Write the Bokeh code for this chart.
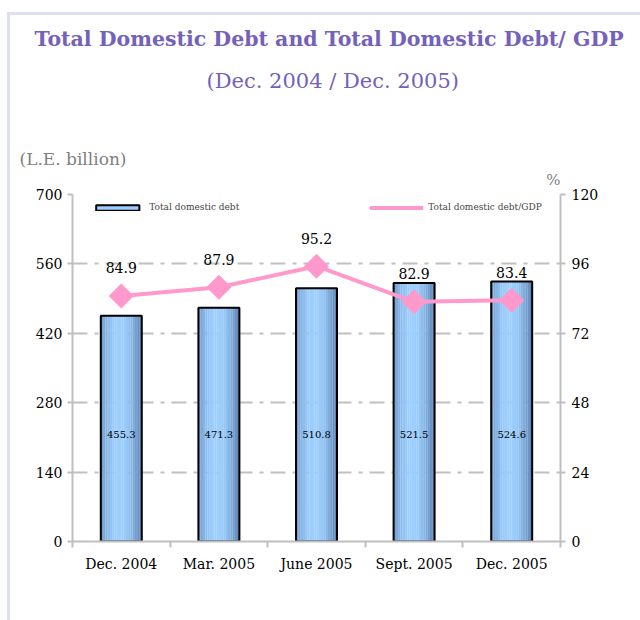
from bokeh.plotting import figure
from bokeh.models import (ColumnDataSource, Range1d, LinearAxis, FixedTicker, Title,
                          Legend, LegendItem)
from bokeh.transform import dodge
from bokeh.core.properties import value
from bokeh.embed import file_html
from bokeh.resources import INLINE

# ---- data ----
categories = ["Dec. 2004", "Mar. 2005", "June 2005", "Sept. 2005", "Dec. 2005"]
debt = [455.3, 471.3, 510.8, 521.5, 524.6]          # L.E. billion
debt_gdp = [84.9, 87.9, 95.2, 82.9, 83.4]           # %
left_ticks = [0, 140, 280, 420, 560, 700]
right_ticks = [0, 24, 48, 72, 96, 120]

title_txt = "Total Domestic Debt and Total Domestic Debt/ GDP"
subtitle_txt = "(Dec. 2004 / Dec. 2005)"
unit_left = "(L.E. billion)"
unit_right = "%"
legend_bar = "Total domestic debt"
legend_line = "Total domestic debt/GDP"

# ---- styles ----
PURPLE = "#7361ba"
GREY = "#bfbfbf"
PINK = "#ff99cc"
SERIF = "DejaVu Serif"

xs = [i + 0.5 for i in range(len(categories))]
src = ColumnDataSource(dict(
    x=xs, debt=debt, gdp=debt_gdp,
    debt_lbl=[f"{v:.1f}" for v in debt],
    gdp_lbl=[f"{v:.1f}" for v in debt_gdp],
    lbl_y=[215] * len(debt),
))

p = figure(frame_width=488, frame_height=347, output_backend="svg", toolbar_location=None,
           x_range=Range1d(0, len(categories)), y_range=Range1d(0, 700),
           min_border_left=62, min_border_right=80, min_border_top=179, min_border_bottom=79,
           background_fill_color="white", border_fill_color="white")
p.title = None
p.margin = (12, 0, 0, 7)
p.styles = {"border-left": "3px solid #dedef4", "border-top": "3px solid #dedef4"}
p.outline_line_color = None
p.extra_y_ranges = {"pct": Range1d(0, 120)}

# grid
p.xgrid.visible = False
p.ygrid.ticker = FixedTicker(ticks=left_ticks)
p.ygrid.grid_line_color = "#c0c0c0"
p.ygrid.grid_line_width = 2
p.ygrid.grid_line_dash = "15 7 4 7"

# x axis
xa = p.xaxis[0]
xa.ticker = FixedTicker(ticks=xs, minor_ticks=list(range(len(categories) + 1)))
xa.major_label_overrides = {x: c for x, c in zip(xs, categories)}
xa.major_tick_out = 0
xa.major_tick_in = 0
xa.minor_tick_out = 6
xa.minor_tick_in = 0
xa.minor_tick_line_color = GREY
xa.minor_tick_line_width = 2
xa.axis_line_color = GREY
xa.axis_line_width = 2
xa.major_label_standoff = 8
xa.major_label_text_font = SERIF
xa.major_label_text_font_size = "14px"
xa.major_label_text_color = "black"

# left axis
ya = p.yaxis[0]
ya.ticker = FixedTicker(ticks=left_ticks)
ya.axis_line_color = GREY
ya.axis_line_width = 2
ya.major_tick_line_color = GREY
ya.major_tick_line_width = 2
ya.major_tick_out = 5
ya.major_tick_in = 0
ya.minor_tick_line_color = None
ya.major_label_standoff = 5
ya.major_label_text_font = SERIF
ya.major_label_text_font_size = "14px"
ya.major_label_text_color = "black"

# right axis
ra = LinearAxis(y_range_name="pct", ticker=FixedTicker(ticks=right_ticks))
ra.axis_line_color = GREY
ra.axis_line_width = 2
ra.major_tick_line_color = GREY
ra.major_tick_line_width = 2
ra.major_tick_out = 5
ra.major_tick_in = 0
ra.minor_tick_line_color = None
ra.major_label_standoff = 6
ra.major_label_text_font = SERIF
ra.major_label_text_font_size = "14px"
ra.major_label_text_color = "black"
p.add_layout(ra, "right")

# bars with simulated gradient (vertical strips)
BW = 0.42
N = 18
dark = (86, 124, 174)
light = (158, 208, 255)
strips = []
for k in range(N):
    t = (k + 0.5) / N
    f = 1 - ((t - 0.45) / 0.55) ** 2
    f = max(0.0, min(1.0, f))
    col = "#%02x%02x%02x" % tuple(int(d + (l - d) * f) for d, l in zip(dark, light))
    off = -BW / 2 + (k + 0.5) * BW / N
    r = p.vbar(x=dodge("x", off, range=p.x_range), top="debt", width=BW / N * 1.05,
               source=src, fill_color=col, line_color=None)
    strips.append(r)
outline = p.vbar(x="x", top="debt", width=BW, source=src, fill_color=None,
                 line_color="black", line_width=2)

# bar labels
p.text(x="x", y="lbl_y", text="debt_lbl", source=src, text_align="center",
       text_baseline="middle", text_font=value(SERIF), text_font_size="10px",
       text_color="black")

# line
line_r = p.line(x="x", y="gdp", source=src, y_range_name="pct", line_color=PINK, line_width=4)
mark_r = p.scatter(x="x", y="gdp", source=src, y_range_name="pct", marker="square",
                   angle=0.7854, size=17, fill_color=PINK, line_color=PINK)
p.text(x="x", y="gdp", text="gdp_lbl", source=src, y_range_name="pct", y_offset=-28,
       text_align="center", text_baseline="middle", text_font=value(SERIF),
       text_font_size="14px", text_color="black")

# titles stacked above the frame (closest first)
p.add_layout(Title(text=unit_right, align="right", offset=0, text_font=SERIF,
                   text_font_size="15px", text_font_style="normal", text_color="#808080",
                   standoff=12), "above")
p.add_layout(Title(text=unit_left, align="left", offset=-53, text_font=SERIF,
                   text_font_size="17px", text_font_style="normal", text_color="#808080",
                   standoff=-12), "above")
p.add_layout(Title(text=" ", align="left", text_font=SERIF, text_font_size="21px",
                   standoff=22), "above")
p.add_layout(Title(text=subtitle_txt, align="left", offset=134, text_font=SERIF,
                   text_font_size="21px", text_font_style="normal", text_color=PURPLE,
                   standoff=21), "above")
p.add_layout(Title(text=title_txt, align="left", offset=-38, text_font=SERIF,
                   text_font_size="20.5px", text_font_style="bold", text_color=PURPLE,
                   standoff=11), "above")

# legend (inside the frame, in the empty band at the top)
legend = Legend(items=[LegendItem(label=legend_bar, renderers=[strips[N // 2], outline]),
                       LegendItem(label=legend_line, renderers=[line_r, mark_r])],
                location="top_center", orientation="horizontal", glyph_width=54,
                glyph_height=7, label_standoff=5, spacing=130, padding=0, margin=8,
                border_line_color=None, background_fill_alpha=0,
                label_text_font=SERIF, label_text_font_size="9px")
p.add_layout(legend)

open("out.html", "w").write(file_html(p, INLINE))
